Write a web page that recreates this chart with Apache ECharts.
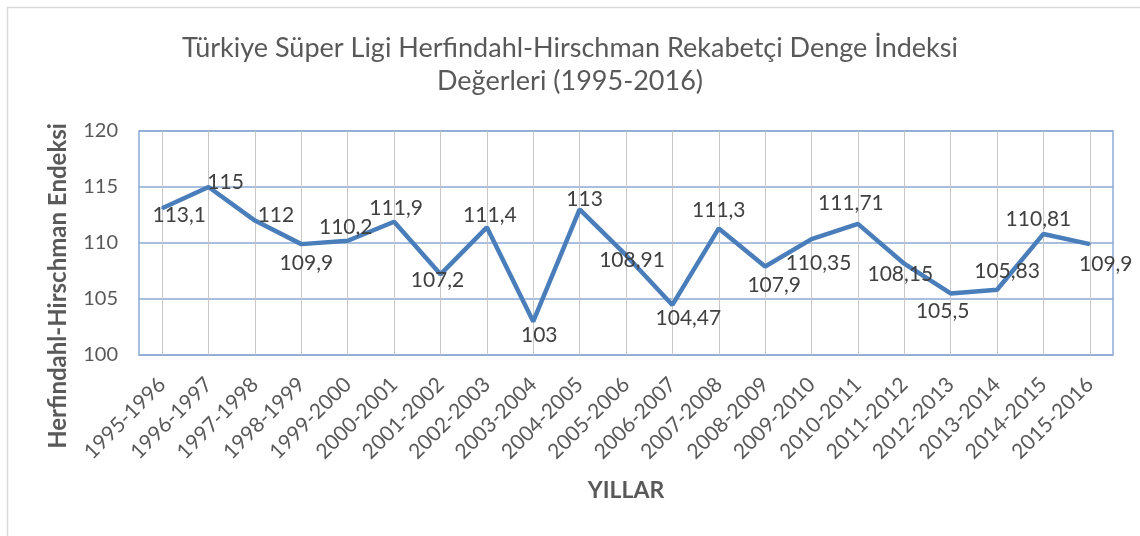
<!DOCTYPE html>
<html>
<head>
<meta charset="utf-8">
<script src="https://cdn.jsdelivr.net/npm/echarts@6/dist/echarts.min.js"></script>
<style>
  html, body { margin: 0; padding: 0; background: #fff; }
  #main { width: 1140px; height: 536px; }
</style>
</head>
<body>
<div id="main"></div>
<script>
// sezonlar
const seasons = [
  '1995-1996', '1996-1997', '1997-1998', '1998-1999', '1999-2000', '2000-2001',
  '2001-2002', '2002-2003', '2003-2004', '2004-2005', '2005-2006', '2006-2007',
  '2007-2008', '2008-2009', '2009-2010', '2010-2011', '2011-2012', '2012-2013',
  '2013-2014', '2014-2015', '2015-2016'
];
// HHI değerleri
const hhiValues = [
  113.1, 115, 112, 109.9, 110.2, 111.9, 107.2, 111.4, 103, 113, 108.91,
  104.47, 111.3, 107.9, 110.35, 111.71, 108.15, 105.5, 105.83, 110.81, 109.9
];
const yTicks = [100, 105, 110, 115, 120];

// label placement, relative to the point (px)
const labelOffsets = [
  [17, 7], [17, -5], [21, -5], [5, 19], [-2, -14], [2, -13], [-3, 6],
  [3, -12], [6, 14], [5, -10], [6, 5], [16, 13], [0, -18], [9, 19],
  [7, 24], [-7, -21], [-4, 11], [-8, 18], [10, -18], [-5, -15], [16, 20]
];

const gridBlue = '#8caad6';
const textGrey = '#595959';
const font = 'Lato, "Open Sans", sans-serif';

const chart = echarts.init(document.getElementById('main'));

const option = {
  backgroundColor: '#fff',
  animation: false,
  title: {
    text: 'Türkiye Süper Ligi Herfindahl-Hirschman Rekabetçi Denge İndeksi\nDeğerleri (1995-2016)',
    left: 'center',
    top: 27,
    textStyle: {
      color: textGrey,
      fontFamily: font,
      fontWeight: 'normal',
      fontSize: 27,
      lineHeight: 33
    }
  },
  graphic: [
    {
      type: 'rect',
      shape: { x: 7.5, y: 7.5, width: 1140, height: 540 },
      style: { fill: 'none', stroke: '#d9d9d9', lineWidth: 1.5 },
      silent: true
    }
  ],
  grid: {
    left: 139,
    right: 27,
    top: 131,
    bottom: 181,
    show: true,
    borderColor: gridBlue,
    borderWidth: 1.5
  },
  xAxis: {
    type: 'category',
    data: seasons,
    boundaryGap: true,
    name: 'YILLAR',
    nameLocation: 'middle',
    nameGap: 124,
    nameTextStyle: { color: textGrey, fontFamily: font, fontWeight: 'bold', fontSize: 23 },
    axisLine: { show: false },
    axisTick: { show: false },
    axisLabel: {
      rotate: 45,
      interval: 0,
      margin: 26,
      color: textGrey,
      fontFamily: font,
      fontSize: 21
    },
    splitLine: {
      show: true,
      alignWithLabel: true,
      lineStyle: { color: '#c6c6c6', width: 1 }
    }
  },
  yAxis: {
    type: 'value',
    min: yTicks[0],
    max: yTicks[yTicks.length - 1],
    interval: 5,
    name: 'Herfindahl-Hirschman Endeksi',
    nameLocation: 'middle',
    nameGap: 69,
    nameTextStyle: {
      color: textGrey, fontFamily: font, fontWeight: 'bold', fontSize: 24,
      padding: [0, 86, 0, 0]
    },
    axisLine: { show: false },
    axisTick: { show: false },
    axisLabel: { color: textGrey, fontFamily: font, fontSize: 20, margin: 21 },
    splitLine: { lineStyle: { color: gridBlue, width: 1.5 } }
  },
  series: [
    {
      type: 'line',
      data: hhiValues.map((v, i) => ({
        value: v,
        label: { offset: labelOffsets[i] }
      })),
      symbol: 'circle',
      symbolSize: 2,
      showSymbol: true,
      lineStyle: { color: '#4a7ebb', width: 4.5 },
      itemStyle: { color: '#4a7ebb' },
      label: {
        show: true,
        position: 'inside',
        color: '#404040',
        fontFamily: font,
        fontSize: 21,
        formatter: p => String(p.value).replace('.', ',')
      }
    }
  ]
};

chart.setOption(option);
</script>
</body>
</html>
